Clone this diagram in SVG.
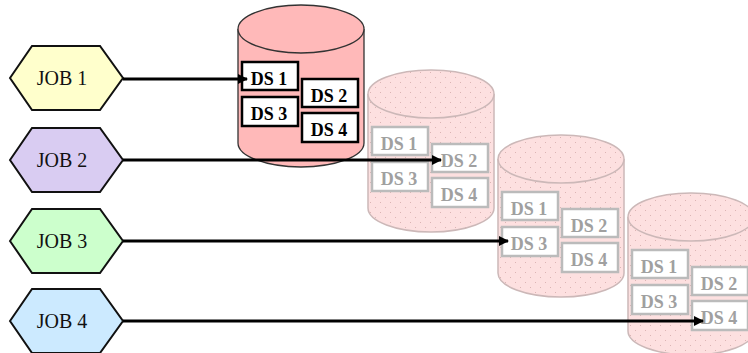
<svg xmlns="http://www.w3.org/2000/svg" width="748" height="353" viewBox="0 0 748 353">
<defs>
<pattern id="dots" width="10" height="10" patternUnits="userSpaceOnUse">
<rect width="10" height="10" fill="#fde0e0"/>
<rect x="2" y="2" width="1" height="1" fill="#dcb4b4"/>
<rect x="7" y="7" width="1" height="1" fill="#dcb4b4"/>
</pattern>
<marker id="ah" viewBox="0 0 10 10" refX="9" refY="5" markerWidth="3.6" markerHeight="3.4" orient="auto" markerUnits="strokeWidth">
<path d="M0,0 L10,5 L0,10 z" fill="#000"/>
</marker>
</defs>
<style>
.hex{stroke:#111;stroke-width:2}
.jt{font-family:"Liberation Serif","Times New Roman",serif;font-size:20px;fill:#111;text-anchor:middle}
.cyl1{fill:#ffb9b9;stroke:#333;stroke-width:1.3}
.cylf{fill:url(#dots);stroke:#ccb8b8;stroke-width:1.5}
.b1{fill:#fff;stroke:#000;stroke-width:2.5}
.bf{fill:#fff;stroke:#bbbbbb;stroke-width:2.5}
.dt{font-family:"Liberation Serif","Times New Roman",serif;font-size:18px;font-weight:bold;text-anchor:middle}
.d1{fill:#000}
.df{fill:#a0a0a0}
.ln{stroke:#000;stroke-width:3;fill:none;marker-end:url(#ah)}
</style>
<rect width="748" height="353" fill="#fff"/>

<g id="db4" transform="translate(628,193)">
<path class="cylf" d="M0,24 V138 A63,24 0 0 0 126,138 V24"/>
<ellipse class="cylf" cx="63" cy="24" rx="63" ry="24"/>
<rect class="bf" x="4" y="57" width="56" height="28"/><text class="dt df" x="31" y="80">DS 1</text>
<rect class="bf" x="64" y="74" width="56" height="28"/><text class="dt df" x="91" y="97">DS 2</text>
<rect class="bf" x="4" y="92" width="56" height="29"/><text class="dt df" x="31" y="115">DS 3</text>
<rect class="bf" x="64" y="108" width="56" height="29"/><text class="dt df" x="91" y="131">DS 4</text>
</g>

<g id="db3" transform="translate(498,135)">
<path class="cylf" d="M0,24 V138 A63,24 0 0 0 126,138 V24"/>
<ellipse class="cylf" cx="63" cy="24" rx="63" ry="24"/>
<rect class="bf" x="4" y="57" width="56" height="28"/><text class="dt df" x="31" y="80">DS 1</text>
<rect class="bf" x="64" y="74" width="56" height="28"/><text class="dt df" x="91" y="97">DS 2</text>
<rect class="bf" x="4" y="92" width="56" height="29"/><text class="dt df" x="31" y="115">DS 3</text>
<rect class="bf" x="64" y="108" width="56" height="29"/><text class="dt df" x="91" y="131">DS 4</text>
</g>

<g id="db2" transform="translate(368,70)">
<path class="cylf" d="M0,24 V138 A63,24 0 0 0 126,138 V24"/>
<ellipse class="cylf" cx="63" cy="24" rx="63" ry="24"/>
<rect class="bf" x="4" y="57" width="56" height="28"/><text class="dt df" x="31" y="80">DS 1</text>
<rect class="bf" x="64" y="74" width="56" height="28"/><text class="dt df" x="91" y="97">DS 2</text>
<rect class="bf" x="4" y="92" width="56" height="29"/><text class="dt df" x="31" y="115">DS 3</text>
<rect class="bf" x="64" y="108" width="56" height="29"/><text class="dt df" x="91" y="131">DS 4</text>
</g>

<g id="db1" transform="translate(238,5)">
<path class="cyl1" d="M0,24 V138 A63,24 0 0 0 126,138 V24"/>
<ellipse class="cyl1" cx="63" cy="24" rx="63" ry="24"/>
<rect class="b1" x="4" y="57" width="56" height="28"/><text class="dt d1" x="31" y="80">DS 1</text>
<rect class="b1" x="64" y="74" width="56" height="28"/><text class="dt d1" x="91" y="97">DS 2</text>
<rect class="b1" x="4" y="92" width="56" height="29"/><text class="dt d1" x="31" y="115">DS 3</text>
<rect class="b1" x="64" y="108" width="56" height="29"/><text class="dt d1" x="91" y="131">DS 4</text>
</g>

<g id="job1">
<polygon class="hex" fill="#ffffcc" points="10,78 32,46 100,46 123,78 100,110 32,110"/>
<text class="jt" x="62" y="85">JOB 1</text>
</g>
<g id="job2">
<polygon class="hex" fill="#d9ccf2" points="10,160 32,128 100,128 123,160 100,192 32,192"/>
<text class="jt" x="62" y="167">JOB 2</text>
</g>
<g id="job3">
<polygon class="hex" fill="#ccffcc" points="10,241 32,209 100,209 123,241 100,273 32,273"/>
<text class="jt" x="62" y="248">JOB 3</text>
</g>
<g id="job4">
<polygon class="hex" fill="#cceaff" points="10,321 32,289 100,289 123,321 100,353 32,353"/>
<text class="jt" x="62" y="328">JOB 4</text>
</g>

<g id="connectors">
<line class="ln" x1="123" y1="79" x2="247" y2="79"/>
<line class="ln" x1="123" y1="160" x2="441" y2="160"/>
<line class="ln" x1="123" y1="241" x2="508" y2="241"/>
<line class="ln" x1="123" y1="321" x2="703" y2="321"/>
</g>
</svg>
